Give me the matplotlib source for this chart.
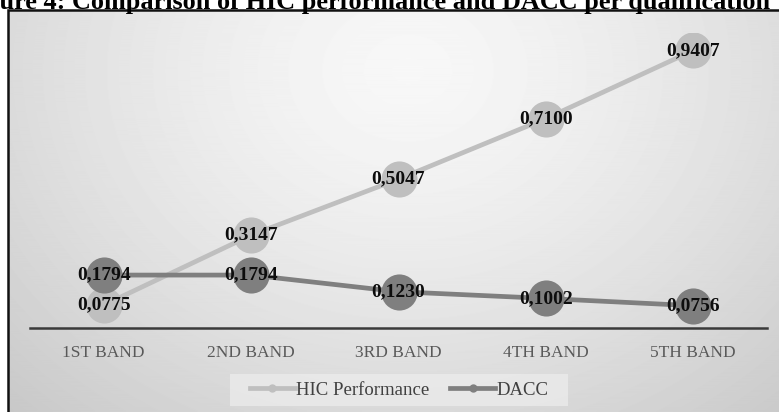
import numpy as np
import matplotlib
matplotlib.use("Agg")
import matplotlib.pyplot as plt
from matplotlib.patches import Rectangle
from matplotlib.lines import Line2D

# ---------------------------------------------------------------------------
# Data
# ---------------------------------------------------------------------------
bands = ["1ST BAND", "2ND BAND", "3RD BAND", "4TH BAND", "5TH BAND"]
hic_performance = [0.0775, 0.3147, 0.5047, 0.7100, 0.9407]
dacc = [0.1794, 0.1794, 0.1230, 0.1002, 0.0756]

title = "Figure 4: Comparison of HIC performance and DACC per qualification"

W, H = 779, 412
plt.rcParams["font.family"] = ["Liberation Serif", "DejaVu Serif"]

fig = plt.figure(figsize=(W / 100, H / 100), dpi=100)

# gradient background inside the chart frame
bg = fig.add_axes([8 / W, 0, 1 - 8 / W, 1 - 10 / H], zorder=0)
yy, xx = np.mgrid[0:400, 0:771]
r = np.sqrt(((xx - 400) / 560) ** 2 + ((yy - 60) / 460) ** 2)
grad = np.clip(0.97 - 0.18 * r ** 1.4, 0, 1)
bg.imshow(grad, cmap="gray", vmin=0, vmax=1, aspect="auto", extent=[0, 1, 0, 1])
bg.set_xlim(0, 1)
bg.set_ylim(0, 1)
bg.axis("off")

# frame border
fig.patches.append(Rectangle((8 / W, -0.01), 1.0, 1 - 10 / H + 0.01, transform=fig.transFigure,
                             fill=False, edgecolor="#111111", linewidth=1.8, zorder=1))

# title, partly cut off like the source crop
fig.text(770 / W, 1 - 9 / H, title, ha="right", va="baseline", fontsize=18.9,
         fontweight="bold", color="black")

ax = fig.add_axes([30 / W, 1 - 328 / H, (767 - 30) / W, (328 - 33) / H], zorder=2)
ax.patch.set_alpha(0)
x = np.arange(len(bands))

ax.plot(x, hic_performance, color="#bfbfbf", linewidth=3.4, marker="o",
        markersize=26, markeredgewidth=0, solid_capstyle="butt",
        label="HIC Performance", zorder=3)
ax.plot(x, dacc, color="#7f7f7f", linewidth=3.4, marker="o",
        markersize=26, markeredgewidth=0, solid_capstyle="butt",
        label="DACC", zorder=4)

for xi, v in zip(x, hic_performance):
    ax.text(xi, v, f"{v:.4f}".replace(".", ","), ha="center", va="center",
            fontsize=14, fontweight="bold", color="#0d0d0d", zorder=6)
for xi, v in zip(x, dacc):
    ax.text(xi, v, f"{v:.4f}".replace(".", ","), ha="center", va="center",
            fontsize=14, fontweight="bold", color="#0d0d0d", zorder=6)

ax.set_xlim(-0.5, len(bands) - 0.5)
ax.set_ylim(0, 1.0)
ax.set_xticks(x)
ax.set_xticklabels(bands, fontsize=12.5, color="#595959")
ax.tick_params(axis="x", length=0, pad=12)
ax.set_yticks([])
for side in ["top", "right", "left"]:
    ax.spines[side].set_visible(False)
ax.spines["bottom"].set_color("#3a3a3a")
ax.spines["bottom"].set_linewidth(1.8)

# legend box, then a frameless legend on top of it
fig.patches.append(Rectangle((230 / W, 1 - 406 / H), 338 / W, 32 / H, transform=fig.transFigure,
                             facecolor="#ececec", alpha=0.75, edgecolor="none", zorder=1))
handles = [
    Line2D([], [], color="#bfbfbf", linewidth=3.4, marker="o", markersize=6, markeredgewidth=0),
    Line2D([], [], color="#7f7f7f", linewidth=3.4, marker="o", markersize=6, markeredgewidth=0),
]
leg = fig.legend(handles, ["HIC Performance", "DACC"], loc="center",
                 bbox_to_anchor=(399 / W, 1 - 390 / H), ncol=2, frameon=False,
                 fontsize=13.5, handlelength=2.4, handletextpad=0.05, columnspacing=1.15)
for t in leg.get_texts():
    t.set_color("#404040")

fig.savefig("out.png", dpi=100)
